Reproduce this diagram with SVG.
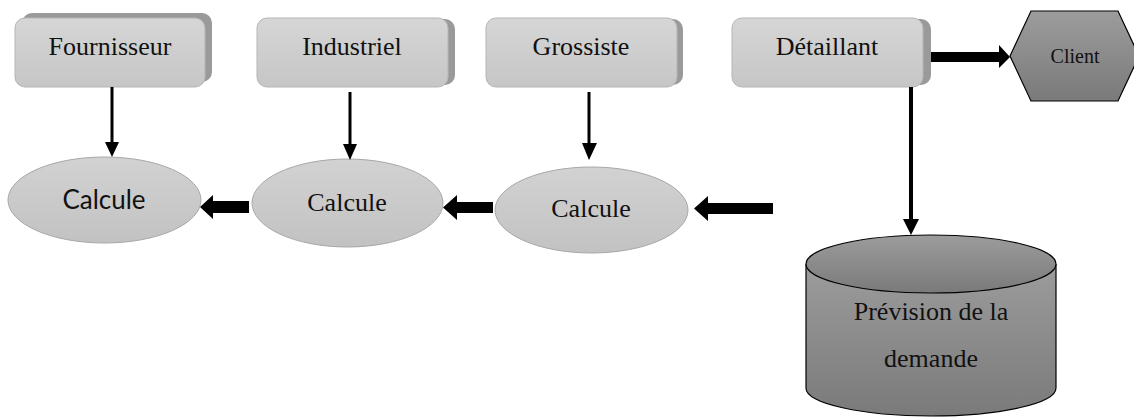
<svg xmlns="http://www.w3.org/2000/svg" width="1134" height="417" viewBox="0 0 1134 417">
<style>
.box{fill:url(#gBox);stroke:#b5b5b5;stroke-width:1}
.shadow{fill:#9a9a9a}
.ell{fill:url(#gEll);stroke:#a8a8a8;stroke-width:1}
.dark{fill:url(#gDark);stroke:#000;stroke-width:1.2}
.t{font-family:"Liberation Serif","Times New Roman",serif;fill:#111;text-anchor:middle}
.s{font-family:Lato,"Liberation Sans",sans-serif;fill:#111;text-anchor:middle}
.thin{stroke:#000;stroke-width:3;fill:none}
.fat{fill:#000}
</style>
<defs>
<linearGradient id="gBox" x1="0" y1="0" x2="0" y2="1"><stop offset="0" stop-color="#d6d6d6"/><stop offset="1" stop-color="#c6c6c6"/></linearGradient>
<linearGradient id="gEll" x1="0" y1="0" x2="0" y2="1"><stop offset="0" stop-color="#d2d2d2"/><stop offset="1" stop-color="#c2c2c2"/></linearGradient>
<linearGradient id="gDark" x1="0" y1="0" x2="0" y2="1"><stop offset="0" stop-color="#9c9c9c"/><stop offset="1" stop-color="#7a7a7a"/></linearGradient>
</defs>

<g id="fournisseur">
<rect class="shadow" x="22" y="13" width="190" height="69" rx="10"/>
<rect class="box" x="15" y="18" width="190" height="69" rx="10"/>
<text class="t" x="110" y="55" font-size="26">Fournisseur</text>
</g>
<g id="industriel">
<rect class="shadow" x="264" y="19" width="191" height="66" rx="10"/>
<rect class="box" x="257" y="18" width="191" height="69" rx="10"/>
<text class="t" x="352" y="55" font-size="26">Industriel</text>
</g>
<g id="grossiste">
<rect class="shadow" x="492" y="19" width="191" height="66" rx="10"/>
<rect class="box" x="486" y="18" width="191" height="69" rx="10"/>
<text class="t" x="581" y="55" font-size="26">Grossiste</text>
</g>
<g id="detaillant">
<rect class="shadow" x="739" y="19" width="192" height="66" rx="10"/>
<rect class="box" x="732" y="18" width="191" height="69" rx="10"/>
<text class="t" x="827" y="55" font-size="26">Détaillant</text>
</g>
<g id="client">
<polygon class="dark" points="1010,56 1031,11 1118,11 1139,56 1118,101 1031,101"/>
<text class="t" x="1075" y="63" font-size="20">Client</text>
</g>
<g id="calcule1">
<ellipse class="ell" cx="104.5" cy="200" rx="96.5" ry="43"/>
<text class="s" x="104" y="209" font-size="26">Calcule</text>
</g>
<g id="calcule2">
<ellipse class="ell" cx="347.5" cy="203" rx="95.5" ry="44"/>
<text class="t" x="347" y="211" font-size="26">Calcule</text>
</g>
<g id="calcule3">
<ellipse class="ell" cx="591.5" cy="210" rx="96.5" ry="43"/>
<text class="t" x="591" y="217" font-size="26">Calcule</text>
</g>
<g id="prevision">
<path class="dark" d="M806,264 L806,388 A125,28 0 0 0 1056,388 L1056,264"/>
<ellipse class="dark" cx="931" cy="264" rx="125" ry="29"/>
<text class="t" x="931" y="320" font-size="26">Prévision de la</text>
<text class="t" x="931" y="367" font-size="26">demande</text>
</g>

<g id="connectors">
<line class="thin" x1="112" y1="87" x2="112" y2="143"/>
<polygon class="fat" points="105,142 119,142 112,157"/>
<line class="thin" x1="350" y1="92" x2="350" y2="146"/>
<polygon class="fat" points="343,144 357,144 350,160"/>
<line class="thin" x1="589" y1="92" x2="589" y2="146"/>
<polygon class="fat" points="582,143 597,143 589,160"/>
<line x1="911" y1="87" x2="911" y2="221" stroke="#000" stroke-width="4"/>
<polygon class="fat" points="903,219 919,219 911,235"/>
<polygon class="fat" points="931,52 999,52 999,45 1010,57 999,68 999,62 931,62"/>
<polygon class="fat" points="249,201 213,201 213,195 200,207 213,219 213,213 249,213"/>
<polygon class="fat" points="493,202 457,202 457,195 443,207.5 457,220 457,213 493,213"/>
<polygon class="fat" points="773,203 708,203 708,196 694,208.5 708,221 708,214 773,214"/>
</g>
</svg>
